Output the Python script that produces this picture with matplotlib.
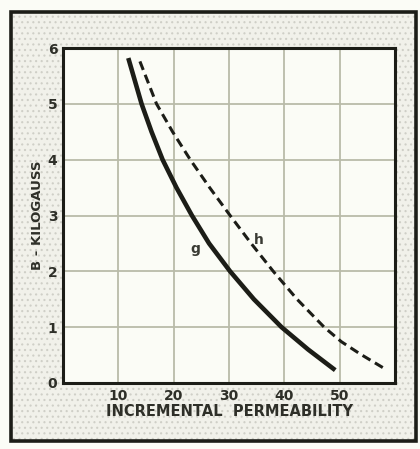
import matplotlib.pyplot as plt
from matplotlib.patches import Rectangle

# B (kilogauss) versus incremental permeability, two cores
g_mu = [11.8, 14.2, 16.0, 18.0, 20.5, 23.3, 26.4, 30.2, 34.5, 39.5, 44.3, 49.2]
g_b = [5.82, 5.0, 4.5, 4.0, 3.5, 3.0, 2.5, 2.0, 1.5, 1.0, 0.6, 0.23]

h_mu = [13.9, 16.9, 19.8, 23.0, 26.5, 30.2, 34.0, 38.0, 42.3, 47.2, 50.3, 53.7, 57.9]
h_b = [5.76, 5.0, 4.5, 4.0, 3.5, 3.0, 2.5, 2.0, 1.5, 1.0, 0.74, 0.52, 0.27]

x_ticks = [10, 20, 30, 40, 50]
y_ticks = [0, 1, 2, 3, 4, 5, 6]

ink = '#1c1d17'
paper = '#fbfcf6'

plt.rcParams['font.family'] = ['DejaVu Sans']
plt.rcParams['hatch.linewidth'] = 0.8

fig = plt.figure(figsize=(4.2, 4.49), dpi=100, facecolor=paper)

# stippled mount with heavy outer frame
mount = Rectangle((11 / 420, 1 - 441 / 449), 405 / 420, 429 / 449,
                  transform=fig.transFigure, facecolor='#f1f1ea',
                  edgecolor='#cfcfc7', hatch='...', linewidth=0, zorder=-2)
fig.add_artist(mount)
frame = Rectangle((11 / 420, 1 - 441 / 449), 405 / 420, 429 / 449,
                  transform=fig.transFigure, fill=False,
                  edgecolor=ink, linewidth=2.6, zorder=-1)
fig.add_artist(frame)

ax = fig.add_axes([63 / 420, 1 - 383 / 449, 332 / 420, 335 / 449])
ax.set_zorder(5)
ax.set_facecolor(paper)

ax.plot(g_mu, g_b, color=ink, linewidth=3.3, solid_capstyle='butt',
        solid_joinstyle='round')
ax.plot(h_mu, h_b, color=ink, linewidth=2.2, linestyle=(0, (3.0, 1.7)))

ax.text(23.9, 2.4, 'g', fontsize=10, fontweight='bold', color='#3a3b34',
        ha='center', va='center')
ax.text(35.4, 2.56, 'h', fontsize=10, fontweight='bold', color='#3a3b34',
        ha='center', va='center')

ax.set_xlim(0, 60)
ax.set_ylim(0, 6)
ax.set_xticks([0] + x_ticks + [60])
ax.set_xticklabels([''] + [str(t) for t in x_ticks] + [''])
ax.set_yticks(y_ticks)
ax.set_yticklabels([str(t) for t in y_ticks])
ax.tick_params(length=0, pad=4, labelsize=10, colors='#2e2f28')
for lbl in ax.get_xticklabels() + ax.get_yticklabels():
    lbl.set_fontweight('bold')

ax.grid(True, color='#b9bba9', linewidth=1.3)
ax.set_axisbelow(True)
for s in ax.spines.values():
    s.set_color(ink)
    s.set_linewidth(2.2)

ax.set_xlabel('INCREMENTAL  PERMEABILITY', fontsize=10.5, fontweight='bold',
              color='#2e2f28', labelpad=1)
ax.set_ylabel('B - KILOGAUSS', fontsize=9.5, fontweight='bold',
              color='#2e2f28', labelpad=3)

fig.savefig('out.png', dpi=100, facecolor=paper)
